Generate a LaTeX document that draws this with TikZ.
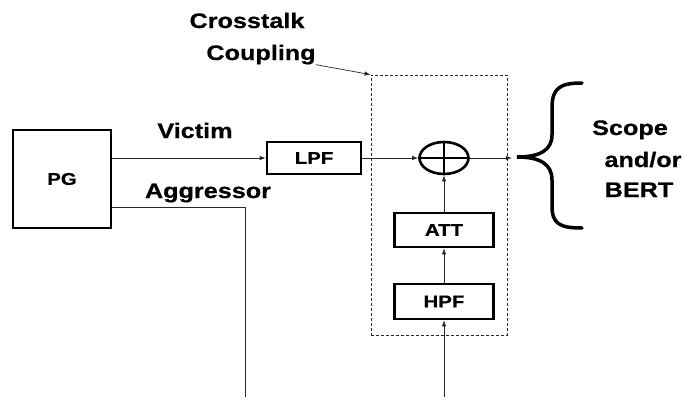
\documentclass[tikz,border=0pt]{standalone}
\usepackage{fontspec}
\setmainfont{Liberation Sans}[FakeStretch=1.2,BoldFeatures={FakeBold=0.6}]
\usetikzlibrary{arrows.meta,shapes.geometric,calc}
\begin{document}
\begin{tikzpicture}[x=1pt,y=-1pt,
  blk/.style={draw,line width=2.6pt,inner sep=0pt,font=\fontsize{17}{20}\selectfont\bfseries},
  lbl/.style={font=\fontsize{21}{25}\selectfont\bfseries,inner sep=0pt,anchor=base},
  thinln/.style={line width=0.9pt,draw=black!85},
  arr/.style={thinln,-{Latex[length=6pt,width=4.5pt]}}]
\useasboundingbox (0,0) rectangle (686,397);
% blocks
\node[blk,minimum width=98pt,minimum height=98pt] (pg) at (62,179) {PG};
\node[blk,minimum width=94pt,minimum height=32pt] (lpf) at (314,158) {LPF};
\node[blk,minimum width=99pt,minimum height=34pt] (att) at (444,230) {ATT};
\node[blk,minimum width=99pt,minimum height=35pt] (hpf) at (444,301.5) {HPF};
\node[draw,ellipse,line width=2.6pt,minimum width=49pt,minimum height=32pt,inner sep=0pt] (sum) at (444,158) {};
\draw[line width=2.6pt] (sum.west) -- (sum.east) (sum.north) -- (sum.south);
% dashed crosstalk box
\node[draw=black!85,line width=0.8pt,dash pattern=on 3pt off 2pt,minimum width=136pt,minimum height=260pt,inner sep=0pt] (xt) at (439,205) {};
% labels
\node[lbl] (cross) at (247,28) {Crosstalk};
\node[lbl] (coup) at (261,60) {Coupling};
\node[lbl] (vic) at (195,138) {Victim};
\node[lbl] (agg) at (208,198) {Aggressor};
\node[lbl] (scope) at (630,135) {Scope};
\node[lbl] (andor) at (643,167) {and/or};
\node[lbl] (bert) at (639,197) {BERT};
% coordinates for free ends
\coordinate (aggend) at (245,397);
\coordinate (hin) at (444,397);
\coordinate (out) at (512,158);
% connectors
\draw[arr] (pg.east |- lpf.west) -- (lpf.west);
\draw[thinln] ($(pg.east)+(0,28)$) -| (aggend);
\draw[arr] (lpf.east) -- (sum.west);
\draw[arr] (sum.east) -- (out);
\draw[arr] (att.north) -- (sum.south);
\draw[arr] (hpf.north) -- (att.south);
\draw[arr] (hin) -- (hpf.south);
\draw[arr,line width=0.7pt] (coup.south east) -- (xt.north west);
% brace
\draw[line width=3.5pt,line cap=round] (582,83) .. controls (560,83) and (552,88) .. (552,108) -- (552,135)
  .. controls (552,150) and (540,157) .. (517,157)
  .. controls (540,157) and (552,164) .. (552,180) -- (552,206)
  .. controls (552,224) and (560,228) .. (582,228);
\end{tikzpicture}
\end{document}
